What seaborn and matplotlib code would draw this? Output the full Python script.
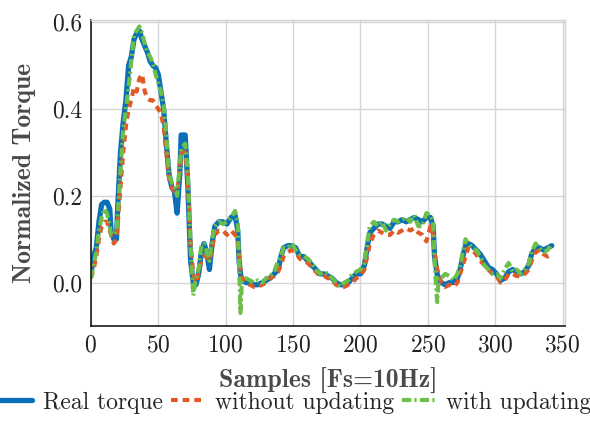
import matplotlib
matplotlib.use("Agg")
import matplotlib.pyplot as plt
import seaborn as sns
import pandas as pd

# === данные ===
samples = [0, 2, 4, 6, 8, 10, 12, 14, 15, 17, 19, 20, 22, 24, 26, 28, 30, 32, 34, 36,
           38, 40, 42, 44, 46, 48, 50, 52, 54, 56, 58, 60, 62, 64, 66, 67, 70, 72, 74, 76,
           78, 80, 82, 84, 86, 88, 90, 92, 95, 98, 101, 104, 107, 109, 110, 111, 112, 115, 118, 121,
           124, 127, 130, 133, 136, 139, 141, 143, 146, 149, 152, 155, 158, 161, 164, 167, 170, 173, 176, 179,
           182, 185, 188, 191, 194, 197, 200, 203, 205, 207, 210, 213, 216, 219, 222, 225, 228, 231, 234, 237,
           240, 243, 246, 249, 252, 254, 255, 257, 258, 260, 263, 266, 269, 272, 274, 276, 278, 280, 283, 286,
           289, 292, 295, 298, 301, 304, 307, 310, 313, 316, 319, 322, 325, 327, 330, 333, 336, 339, 342]

real_torque = [0.02, 0.06, 0.08, 0.14, 0.18, 0.185, 0.185, 0.17, 0.12, 0.10, 0.10, 0.18, 0.30, 0.37, 0.42, 0.50, 0.52, 0.56, 0.575, 0.58,
               0.56, 0.545, 0.53, 0.51, 0.50, 0.495, 0.48, 0.44, 0.40, 0.32, 0.25, 0.22, 0.21, 0.16, 0.25, 0.34, 0.34, 0.22, 0.05, 0.00,
               -0.005, 0.02, 0.07, 0.09, 0.07, 0.03, 0.09, 0.13, 0.14, 0.14, 0.135, 0.15, 0.155, 0.12, 0.05, 0.02, 0.005, 0.0, 0.0, -0.005,
               -0.005, 0.0, 0.005, 0.01, 0.02, 0.03, 0.06, 0.08, 0.085, 0.085, 0.08, 0.06, 0.06, 0.05, 0.04, 0.03, 0.02, 0.02, 0.015, 0.01,
               0.0, -0.005, -0.005, 0.0, 0.01, 0.02, 0.02, 0.04, 0.08, 0.115, 0.125, 0.135, 0.135, 0.13, 0.125, 0.14, 0.14, 0.145, 0.14, 0.145,
               0.15, 0.145, 0.14, 0.15, 0.15, 0.13, 0.06, 0.02, 0.01, 0.0, -0.005, 0.0, 0.0, 0.01, 0.03, 0.06, 0.085, 0.09, 0.085, 0.075,
               0.065, 0.05, 0.035, 0.03, 0.02, 0.005, 0.01, 0.025, 0.03, 0.025, 0.02, 0.025, 0.04, 0.065, 0.08, 0.08, 0.075, 0.08, 0.085]

without_upd = [0.01, 0.03, 0.06, 0.10, 0.13, 0.14, 0.14, 0.12, 0.11, 0.09, 0.10, 0.14, 0.22, 0.30, 0.36, 0.40, 0.42, 0.45, 0.44, 0.47,
               0.48, 0.44, 0.425, 0.42, 0.42, 0.41, 0.40, 0.39, 0.36, 0.30, 0.24, 0.22, 0.21, 0.21, 0.26, 0.30, 0.30, 0.23, 0.09, 0.02,
               0.0, 0.02, 0.05, 0.06, 0.06, 0.05, 0.08, 0.11, 0.12, 0.12, 0.11, 0.12, 0.11, 0.10, 0.06, 0.03, 0.01, 0.0, -0.005, -0.01,
               -0.01, -0.005, 0.0, 0.01, 0.015, 0.025, 0.04, 0.06, 0.07, 0.075, 0.07, 0.055, 0.05, 0.045, 0.035, 0.025, 0.015, 0.015, 0.01, 0.005,
               -0.005, -0.01, -0.01, -0.005, 0.0, 0.01, 0.015, 0.03, 0.06, 0.09, 0.11, 0.12, 0.115, 0.11, 0.11, 0.12, 0.115, 0.12, 0.125, 0.12,
               0.125, 0.115, 0.11, 0.095, 0.13, 0.11, 0.07, 0.03, 0.02, 0.0, -0.01, -0.005, -0.01, 0.0, 0.02, 0.04, 0.06, 0.08, 0.075, 0.065,
               0.05, 0.04, 0.03, 0.02, 0.015, 0.0, 0.005, 0.02, 0.02, 0.015, 0.015, 0.02, 0.03, 0.05, 0.07, 0.075, 0.065, 0.06, 0.065]

with_upd = [0.01, 0.04, 0.07, 0.12, 0.15, 0.17, 0.16, 0.13, 0.11, 0.11, 0.12, 0.16, 0.26, 0.35, 0.40, 0.45, 0.51, 0.57, 0.58, 0.59,
            0.575, 0.55, 0.53, 0.52, 0.505, 0.48, 0.46, 0.44, 0.41, 0.34, 0.25, 0.23, 0.22, 0.20, 0.27, 0.31, 0.32, 0.25, 0.08, -0.03,
            0.01, 0.03, 0.085, 0.09, 0.07, 0.05, 0.10, 0.13, 0.14, 0.135, 0.14, 0.15, 0.165, 0.14, 0.04, -0.07, 0.0, 0.01, 0.005, 0.0,
            0.005, 0.0, 0.01, 0.015, 0.025, 0.05, 0.06, 0.08, 0.08, 0.09, 0.075, 0.065, 0.06, 0.055, 0.045, 0.03, 0.02, 0.025, 0.02, 0.01,
            0.0, -0.01, 0.0, 0.005, 0.02, 0.025, 0.03, 0.045, 0.09, 0.13, 0.14, 0.13, 0.14, 0.12, 0.135, 0.145, 0.14, 0.145, 0.15, 0.14,
            0.155, 0.13, 0.13, 0.16, 0.155, 0.14, 0.05, -0.045, 0.01, 0.01, 0.02, 0.015, 0.005, 0.02, 0.04, 0.07, 0.10, 0.09, 0.08, 0.075,
            0.06, 0.04, 0.03, 0.02, 0.02, 0.01, 0.03, 0.045, 0.025, 0.03, 0.02, 0.03, 0.045, 0.07, 0.09, 0.08, 0.07, 0.075, 0.09]

x_ticks = [0, 50, 100, 150, 200, 250, 300, 350]
y_ticks = [0.0, 0.2, 0.4, 0.6]
y_tick_labels = ['0.0', '0.2', '0.4', '0.6']

assert len(samples) == len(real_torque) == len(without_upd) == len(with_upd)

df = pd.DataFrame({'s': samples, 'real': real_torque, 'wo': without_upd, 'w': with_upd})

sns.set_theme(style="whitegrid")
plt.rcParams['font.family'] = ['cmr10', 'DejaVu Serif']
plt.rcParams['axes.formatter.use_mathtext'] = True
plt.rcParams['mathtext.fontset'] = 'cm'

fig = plt.figure(figsize=(5.9, 4.25), dpi=100)
ax = fig.add_axes([0.154, 0.233, 0.804, 0.72])

sns.lineplot(data=df, x='s', y='real', ax=ax, color='#0a6fb8', lw=3.8, sort=False,
             label='Real torque')
sns.lineplot(data=df, x='s', y='wo', ax=ax, color='#e05a28', lw=3.0, sort=False,
             linestyle=(0, (1.6, 1.2)), label='without updating')
sns.lineplot(data=df, x='s', y='w', ax=ax, color='#6cbf48', lw=3.0, sort=False,
             linestyle=(0, (2.2, 0.8, 0.5, 0.8)), label='with updating')

ax.set_xlim(0, 352)
ax.set_ylim(-0.1, 0.605)
ax.set_xticks(x_ticks)
ax.set_yticks(y_ticks)
ax.set_yticklabels(y_tick_labels)
ax.tick_params(labelsize=17, length=0, pad=6, colors='#222222')
ax.grid(True, color='#d4d4d4', lw=1.0)

for side in ['top', 'right']:
    ax.spines[side].set_color('#d4d4d4')
    ax.spines[side].set_linewidth(1.0)
for side in ['left', 'bottom']:
    ax.spines[side].set_color('#1a1a1a')
    ax.spines[side].set_linewidth(1.2)

ax.set_xlabel('Samples [Fs=10Hz]', fontsize=18.5, fontfamily='cmb10', color='#4a4a4a', labelpad=8)
ax.set_ylabel('Normalized Torque', fontsize=18.5, fontfamily='cmb10', color='#4a4a4a', labelpad=12)

ax.get_legend().remove()
handles, labels = ax.get_legend_handles_labels()
fig.legend(handles, labels, loc='lower center', bbox_to_anchor=(0.5, -0.012), ncol=3,
           frameon=False, fontsize=17, handlelength=1.4, handletextpad=0.45, columnspacing=0.35,
           borderpad=0.2)

fig.savefig('out.png', dpi=100)
